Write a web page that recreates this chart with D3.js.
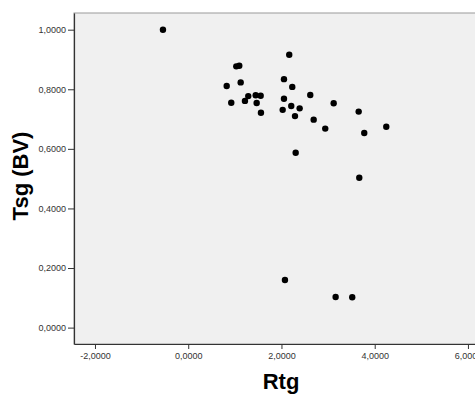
<!DOCTYPE html>
<html>
<head>
<meta charset="utf-8">
<script src="https://cdn.jsdelivr.net/npm/d3@7"></script>
<style>
  body { margin: 0; background: #fff; }
  svg { display: block; font-family: Arial, "Liberation Sans", sans-serif; }
  .tick text { fill: #333; font-size: 9px; }
  .tick line, .domain { stroke: #333; }
</style>
</head>
<body>
<div id="chart"></div>
<script>
// Rtg values (x)
var rtg = [-0.542, 2.167, 1.031, 1.095, 1.125, 0.825, 2.054, 2.232, 1.288, 1.217,
  1.447, 1.554, 0.923, 1.468, 1.560, 2.054, 2.026, 2.210, 2.390, 2.290,
  2.618, 2.691, 2.939, 3.120, 3.656, 3.776, 4.248, 2.305, 3.669, 2.075,
  3.162, 3.518]
// Tsg (BV) values (y)
var tsg = [1.000, 0.916, 0.877, 0.879, 0.823, 0.811, 0.834, 0.808, 0.777, 0.761,
  0.780, 0.778, 0.755, 0.754, 0.721, 0.768, 0.731, 0.744, 0.736, 0.710,
  0.781, 0.698, 0.668, 0.753, 0.725, 0.653, 0.674, 0.587, 0.503, 0.160,
  0.103, 0.102]

var xTicks = [-2, 0, 2, 4, 6]
var yTicks = [0, 0.2, 0.4, 0.6, 0.8, 1.0]

var W = 475, H = 394
var fmt = d => d3.format('.4f')(d).replace('.', ',').replace('−', '-')

var svg = d3.select('#chart').append('svg')
  .attr('width', W).attr('height', H)
  .style('overflow', 'hidden')

var x = d3.scaleLinear().domain([-2.45, 6.43]).range([74, 488])
var y = d3.scaleLinear().domain([-0.055, 1.056]).range([344, 13])

// plot background
svg.append('rect')
  .attr('x', 74).attr('y', 13)
  .attr('width', 488 - 74).attr('height', 344 - 13)
  .attr('fill', '#f0f0f0')
  .attr('stroke', '#999')

svg.append('g')
  .attr('transform', 'translate(0,344)')
  .call(d3.axisBottom(x).tickValues(xTicks).tickFormat(fmt).tickSize(5).tickPadding(4).tickSizeOuter(0))

svg.append('g')
  .attr('transform', 'translate(74,0)')
  .call(d3.axisLeft(y).tickValues(yTicks).tickFormat(fmt).tickSize(6).tickPadding(2).tickSizeOuter(0))

svg.selectAll('.domain').attr('stroke-width', 1.2)

svg.append('g').selectAll('circle')
  .data(rtg)
  .join('circle')
  .attr('cx', d => x(d))
  .attr('cy', (d, i) => y(tsg[i]))
  .attr('r', 3.2)
  .attr('fill', '#000')

svg.append('text')
  .attr('x', 281).attr('y', 389)
  .attr('text-anchor', 'middle')
  .style('font-size', '22px').style('font-weight', 'bold')
  .text('Rtg')

svg.append('text')
  .attr('transform', 'translate(28,176) rotate(-90)')
  .attr('text-anchor', 'middle')
  .style('font-size', '22px').style('font-weight', 'bold')
  .text('Tsg (BV)')
</script>
</body>
</html>
